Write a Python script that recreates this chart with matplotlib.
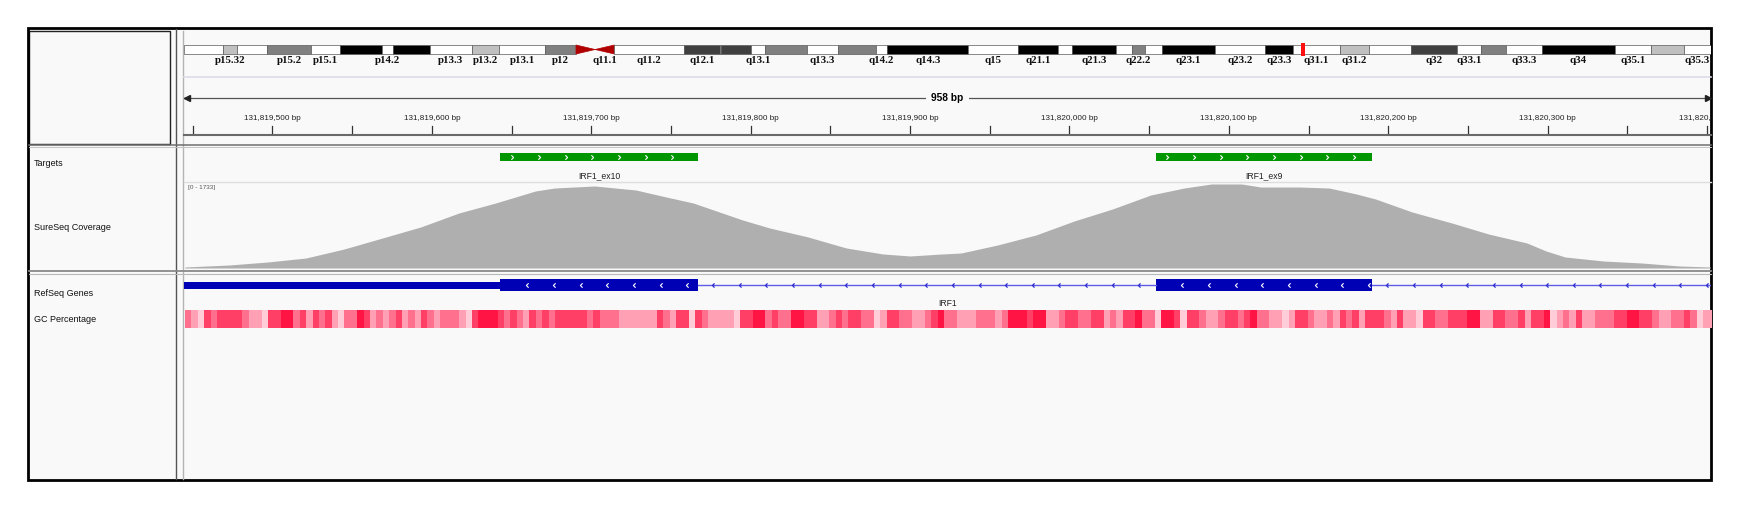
import matplotlib
matplotlib.use('Agg')
import numpy as np
import matplotlib.pyplot as plt
from matplotlib.patches import Rectangle, Polygon
from matplotlib.path import Path
from matplotlib.colors import ListedColormap

# ---- data -------------------------------------------------------------
view_start = 131819444.5
view_end = 131820402.5

# chr5 ideogram (Mb)
band_names = ['p15.33', 'p15.32', 'p15.31', 'p15.2', 'p15.1', 'p14.3', 'p14.2', 'p14.1',
              'p13.3', 'p13.2', 'p13.1', 'p12', 'p11', 'q11.1', 'q11.2', 'q12.1', 'q12.2',
              'q12.3', 'q13.1', 'q13.2', 'q13.3', 'q14.1', 'q14.2', 'q14.3', 'q15', 'q21.1',
              'q21.2', 'q21.3', 'q22.1', 'q22.2', 'q22.3', 'q23.1', 'q23.2', 'q23.3', 'q31.1',
              'q31.2', 'q31.3', 'q32', 'q33.1', 'q33.2', 'q33.3', 'q34', 'q35.1', 'q35.2', 'q35.3']
band_edges = [0, 4.62, 6.28, 9.83, 15.1, 18.48, 23.46, 24.76, 29.14, 34.06, 37.37, 42.81,
              46.44, 48.7, 50.99, 59.24, 63.46, 63.62, 67.14, 68.83, 73.76, 77.43, 81.98,
              83.28, 92.93, 98.8, 103.5, 105.18, 110.39, 112.29, 113.85, 115.83, 122.14,
              128.02, 131.38, 136.95, 140.33, 145.36, 150.77, 153.63, 156.61, 160.88,
              169.53, 173.79, 177.65, 180.9]
band_stains = ['gneg', 'gpos25', 'gneg', 'gpos50', 'gneg', 'gpos100', 'gneg', 'gpos100',
               'gneg', 'gpos25', 'gneg', 'gpos50', 'acen', 'acen', 'gneg', 'gpos75', 'gneg',
               'gpos75', 'gneg', 'gpos50', 'gneg', 'gpos50', 'gneg', 'gpos100', 'gneg',
               'gpos100', 'gneg', 'gpos100', 'gneg', 'gpos50', 'gneg', 'gpos100', 'gneg',
               'gpos100', 'gneg', 'gpos25', 'gneg', 'gpos75', 'gneg', 'gpos50', 'gneg',
               'gpos100', 'gneg', 'gpos25', 'gneg']
shown_labels = ['p15.32', 'p15.2', 'p15.1', 'p14.2', 'p13.3', 'p13.2', 'p13.1', 'p12',
                'q11.1', 'q11.2', 'q12.1', 'q13.1', 'q13.3', 'q14.2', 'q14.3', 'q15', 'q21.1',
                'q21.3', 'q22.2', 'q23.1', 'q23.2', 'q23.3', 'q31.1', 'q31.2', 'q32', 'q33.1',
                'q33.3', 'q34', 'q35.1', 'q35.3']
locus_mb = 132.55

# targets
target_names = ['IRF1_ex10', 'IRF1_ex9']
target_starts = [131819643, 131820054]
target_ends = [131819767, 131820190]

# coverage
cov_max = 1733
cov_pos = [131819445, 131819473, 131819497, 131819521, 131819545, 131819569, 131819593,
           131819617, 131819640, 131819665, 131819677, 131819702, 131819728, 131819747,
           131819764, 131819795, 131819812, 131819836, 131819860, 131819883, 131819900,
           131819920, 131819932, 131819955, 131819979, 131820003, 131820027, 131820051,
           131820072, 131820089, 131820108, 131820120, 131820144, 131820163, 131820180,
           131820192, 131820215, 131820240, 131820263, 131820287, 131820299, 131820311,
           131820335, 131820359, 131820383, 131820402]
cov_val = [21, 62, 124, 206, 392, 619, 846, 1135, 1341, 1589, 1650, 1692, 1609, 1465, 1341,
           990, 825, 640, 413, 289, 248, 289, 309, 475, 681, 970, 1217, 1506, 1650, 1733,
           1733, 1671, 1671, 1650, 1527, 1424, 1155, 928, 701, 516, 351, 227, 144, 103, 41, 21]

# RefSeq gene (minus strand)
gene_name = 'IRF1'
utr_start, utr_end = 131819444, 131819643
exon_starts = [131819643, 131820054]
exon_ends = [131819767, 131820190]
gene_end = 131820403

# GC percentage, 4 bp bins, levels 0 (low) .. 4 (high)
gc_start = 131819445
gc_bin = 4
gc_levels = [int(c) for c in
             "2103233332110334423132310224312123121321222103444323213232333"
             "332322211111132133032111103344232244331123233220133221123422"
             "111222124443441123322331213342204430332112332342211013321121"
             "32313332131103322333441133223133401213112223344332112232011"]

# ---- layout ------------------------------------------------------------
W, H = 1749, 512
fig = plt.figure(figsize=(W / 100, H / 100), dpi=100)
fig.patch.set_facecolor('white')
sans = 'Liberation Sans'


def px_axes(x0, y0, x1, y1):
    ax = fig.add_axes([x0 / W, 1 - y1 / H, (x1 - x0) / W, (y1 - y0) / H])
    ax.set_axis_off()
    ax.patch.set_alpha(0)
    return ax


base = px_axes(0, 0, W, H)
base.set_xlim(0, W)
base.set_ylim(H, 0)
base.add_patch(Rectangle((28, 28), 1683, 452, fc='#f9f9f9', ec='none'))
base.add_patch(Rectangle((29.5, 31), 141, 113, fill=False, ec='#222222', lw=1))
base.plot([176, 176], [29, 479], color='#555555', lw=1)
base.plot([183, 183], [31, 479], color='#b4b4b4', lw=1)
base.plot([29, 1711], [144.5, 144.5], color='#6e6e6e', lw=1.1)
base.plot([29, 1711], [146.5, 146.5], color='#c4c4c4', lw=0.7)
base.plot([29, 1711], [270.5, 270.5], color='#8a8a8a', lw=1.3)
base.plot([29, 1711], [274, 274], color='#b8b8b8', lw=0.8)
base.plot([184, 1711], [77, 77], color='#dcdce8', lw=1.2)
base.plot([184, 1711], [135, 135], color='#6a6a6a', lw=1.5)
base.plot([184, 1711], [182, 182], color='#dedede', lw=1)
base.add_patch(Rectangle((28, 28), 1683, 452, fill=False, ec='black', lw=2))

for label, y in [('Targets', 164), ('SureSeq Coverage', 227),
                 ('RefSeq Genes', 293), ('GC Percentage', 320)]:
    base.text(34, y, label, ha='left', va='center', fontsize=6.5, family=sans, color='#111111')

# ---- ideogram ------------------------------------------------------------
stain_color = {'gneg': 'white', 'gpos25': '#c0c0c0', 'gpos50': '#808080',
               'gpos75': '#404040', 'gpos100': 'black'}
axi = px_axes(184, 28, 1711, 77)
axi.set_xlim(band_edges[0], band_edges[-1])
axi.set_ylim(77, 28)
top, bot = 45, 54
for name, s, e, st in zip(band_names, band_edges[:-1], band_edges[1:], band_stains):
    if st == 'acen':
        mid = (bot + top) / 2
        if name.startswith('p'):
            tri = [(s, top), (s, bot), (e, mid)]
        else:
            tri = [(e, top), (e, bot), (s, mid)]
        axi.add_patch(Polygon(tri, closed=True, fc='#b00000', ec='#b00000', lw=0.5))
    else:
        axi.add_patch(Rectangle((s, top), e - s, bot - top, fc=stain_color[st],
                                ec='#5a5a5a', lw=0.5))
    if name in shown_labels:
        axi.text((s + e) / 2, 60.5, name, ha='center', va='center', fontsize=7.8,
                 family='Liberation Serif', weight='bold', color='#111111', clip_on=True)
axi.add_patch(Rectangle((locus_mb - 0.2, 43), 0.4, 13, fc='#ff1010', ec='none'))

# ---- ruler ---------------------------------------------------------------
axr = px_axes(184, 28, 1711, 144)
axr.set_xlim(view_start, view_end)
axr.set_ylim(144, 28)
axr.plot([view_start, view_end], [98, 98], color='#555555', lw=0.9)
axr.plot([view_start + 2], [98], marker='<', ms=4, color='#222222')
axr.plot([view_end - 2], [98], marker='>', ms=4, color='#222222')
span = int(round(view_end - view_start))
axr.text((view_start + view_end) / 2, 98, f'{span} bp', ha='center', va='center',
         fontsize=7.3, weight='bold', family=sans,
         bbox=dict(fc='#f9f9f9', ec='none', pad=4))
tick_pos = np.arange(131819450, view_end + 1, 50)
for p in tick_pos:
    axr.plot([p, p], [126, 133], color='#333333', lw=0.9)
    if p % 100 == 0:
        axr.text(p, 118, f'{int(p):,} bp', ha='center', va='center', fontsize=5.9,
                 family=sans, color='#222222', clip_on=True)

# ---- tracks --------------------------------------------------------------
axt = px_axes(184, 146, 1711, 480)
step = 16.72
left_chev = Path([(0.5, 1), (-0.5, 0), (0.5, -1)], [Path.MOVETO, Path.LINETO, Path.LINETO])
right_chev = Path([(-0.5, 1), (0.5, 0), (-0.5, -1)], [Path.MOVETO, Path.LINETO, Path.LINETO])

for name, s, e in zip(target_names, target_starts, target_ends):
    axt.add_patch(Rectangle((s, 153), e - s, 8, fc='#009600', ec='none'))
    ax_ = np.arange(s + 7.5, e - 2, step)
    axt.plot(ax_, [157] * len(ax_), ls='none', marker=right_chev, ms=3.2,
             mec='white', mfc='none', mew=0.8)
    axt.text((s + e) / 2, 176, name, ha='center', va='center', fontsize=6.2,
             family=sans, color='#222222')

# gene: UTR, introns, exons
axt.add_patch(Rectangle((utr_start, 282), utr_end - utr_start, 7, fc='#0000b4', ec='none'))
intron_starts = exon_ends
intron_ends = exon_starts[1:] + [gene_end]
for s, e in zip(intron_starts, intron_ends):
    axt.plot([s, e], [285, 285], color='#5c5ce6', lw=1)
    ax_ = np.arange(s + 9.4, e - 2, step)
    axt.plot(ax_, [285] * len(ax_), ls='none', marker=left_chev, ms=3,
             mec='#2a2acc', mfc='none', mew=0.9)
for s, e in zip(exon_starts, exon_ends):
    axt.add_patch(Rectangle((s, 279), e - s, 12, fc='#0000b4', ec='none'))
    ax_ = np.arange(s + 16.9, e - 2, step)
    axt.plot(ax_, [285] * len(ax_), ls='none', marker=left_chev, ms=3.2,
             mec='white', mfc='none', mew=0.8)
axt.text((view_start + view_end) / 2, 304, gene_name, ha='center', va='center',
         fontsize=6.2, family=sans, color='#222222')

gc_colors = ['#ffccd7', '#ffa0b4', '#ff6f8e', '#ff3f66', '#ff1444']
n = len(gc_levels)
axt.imshow(np.array(gc_levels)[None, :], cmap=ListedColormap(gc_colors), vmin=-0.5,
           vmax=4.5, extent=(gc_start, gc_start + gc_bin * n, 328, 310), aspect='auto',
           interpolation='nearest')
axt.set_xlim(view_start, view_end)
axt.set_ylim(480, 146)

# coverage
axc = px_axes(184, 184, 1711, 268)
axc.set_xlim(view_start, view_end)
axc.set_ylim(0, cov_max)
axc.fill_between(cov_pos, cov_val, color='#afafaf', lw=0)
base.text(188, 188, f'[0 - {cov_max}]', ha='left', va='center', fontsize=4.6,
          family=sans, color='#555555')

fig.savefig('out.png', dpi=100, facecolor='white')
